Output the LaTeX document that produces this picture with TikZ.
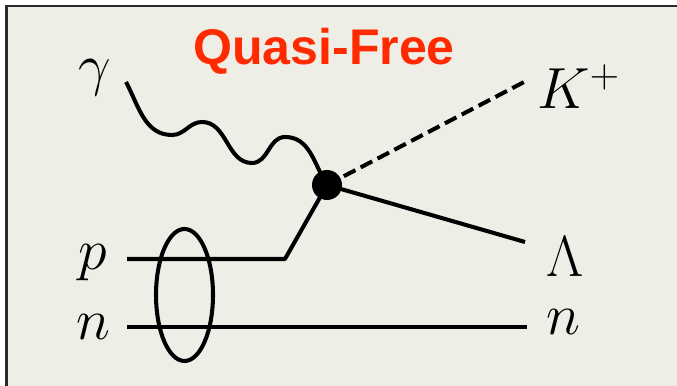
\RequirePackage{fix-cm}
\documentclass[tikz,border=0pt]{standalone}
\usepackage{fontspec}
\newfontfamily\headfont{Liberation Sans}
\usepackage{xcolor}
\usepackage{tikz}
\usetikzlibrary{shapes.geometric, positioning, calc}
\definecolor{PaperBeige}{HTML}{EFEEE6}
\definecolor{TitleRed}{HTML}{FF2A00}
\definecolor{FrameGray}{HTML}{2A2A2A}
\tikzset{
  particle/.style={line width=2.3pt, line join=round},
  kaonline/.style={particle, dash pattern=on 0.26cm off 0.12cm},
  lbl/.style={anchor=base west, inner sep=0pt, font=\fontsize{33}{36}\selectfont},
}

\begin{document}
\begin{tikzpicture}
        % Canvas and frame
        \useasboundingbox (0,0) rectangle (13.54,7.72);
        \fill[white] (0,0) rectangle (13.54,7.72);
        \fill[PaperBeige] (0.13,0) rectangle (13.54,7.60);
        \draw[FrameGray, line width=1.2pt] (0.13,0) -- (0.13,7.60) -- (13.54,7.60);

        \node[font=\headfont\bfseries\fontsize{28.5}{30}\selectfont, text=TitleRed] (title) at (6.48, 6.69) {Quasi-Free};

        % Particle labels
        \node[lbl] (gamma) at (1.56, 6.02) {$\gamma$};
        \node[lbl] (p) at (1.56, 2.32) {$p$};
        \node[lbl] (nin) at (1.52, 0.92) {$n$};
        \node[lbl] (kaon) at (10.74, 5.54) {$K^+$};
        \node[lbl] (lambda) at (10.92, 2.18) {$\Lambda$};
        \node[lbl] (nout) at (10.92, 1.02) {$n$};

        % Line ends
        \coordinate (phstart) at (2.52, 6.08);
        \coordinate (pstart) at (2.54, 2.54);
        \coordinate (kink) at (5.70, 2.54);
        \coordinate (nstart) at (2.54, 1.18);
        \coordinate (nend) at (10.54, 1.18);
        \coordinate (kend) at (10.52, 6.10);
        \coordinate (lend) at (10.50, 2.88);
        \coordinate (vtxpos) at (6.54, 4.02);

        % Photon
        \draw[particle] (phstart) to[out=-62, in=180] (3.44, 5.02) to[out=0, in=180] (4.04, 5.28)
            to[out=0, in=180] (5.04, 4.46) to[out=0, in=180] (5.70, 4.98) to[out=0, in=122] (vtxpos);

        % Nucleons and outgoing particles
        \draw[particle] (pstart) -- (kink) -- (vtxpos);
        \draw[particle] (nstart) -- (nend);
        \draw[kaonline] (vtxpos) -- (kend);
        \draw[particle] (vtxpos) -- (lend);
        \node[ellipse, draw, line width=2.3pt, minimum width=1.14cm, minimum height=2.64cm, inner sep=0pt] (deuteron) at (3.69, 1.82) {};

        \node[circle, fill=black, minimum size=0.6cm, inner sep=0pt] (vtx) at (vtxpos) {};
\end{tikzpicture}
\end{document}
